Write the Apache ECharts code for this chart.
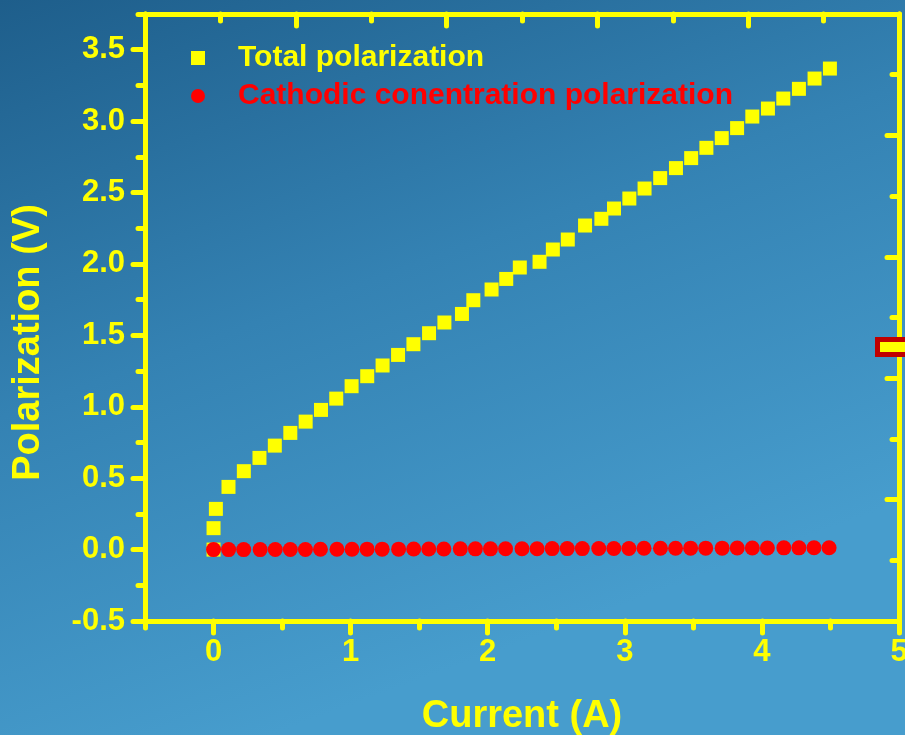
<!DOCTYPE html>
<html>
<head>
<meta charset="utf-8">
<script src="https://cdn.jsdelivr.net/npm/echarts@6/dist/echarts.min.js"></script>
<style>
html,body{margin:0;padding:0;background:#2b77a6;}
#chart{width:905px;height:735px;}
</style>
</head>
<body>
<div id="chart"></div>
<script>
// ---- data ----
var seriesNames = ['Total polarization', 'Cathodic conentration polarization'];

var totalX = [0, 0, 0.017, 0.109, 0.221, 0.335, 0.447, 0.56, 0.672, 0.784, 0.895, 1.007, 1.121, 1.233, 1.346, 1.458, 1.572, 1.684, 1.812, 1.895, 2.028, 2.135, 2.234, 2.378, 2.475, 2.584, 2.71, 2.829, 2.921, 3.033, 3.144, 3.258, 3.373, 3.484, 3.595, 3.707, 3.819, 3.93, 4.044, 4.156, 4.27, 4.384, 4.496];
var totalY = [0, 0.15, 0.285, 0.439, 0.549, 0.642, 0.728, 0.817, 0.896, 0.978, 1.057, 1.144, 1.214, 1.289, 1.363, 1.438, 1.515, 1.59, 1.65, 1.746, 1.821, 1.895, 1.975, 2.015, 2.101, 2.171, 2.269, 2.316, 2.388, 2.458, 2.528, 2.601, 2.671, 2.741, 2.813, 2.881, 2.951, 3.032, 3.088, 3.158, 3.226, 3.298, 3.368];

var cathodicX = [0, 0.11, 0.22, 0.34, 0.45, 0.56, 0.67, 0.78, 0.90, 1.01, 1.12, 1.23, 1.35, 1.46, 1.57, 1.68, 1.80, 1.91, 2.02, 2.13, 2.25, 2.36, 2.47, 2.58, 2.69, 2.81, 2.92, 3.03, 3.14, 3.26, 3.37, 3.48, 3.59, 3.71, 3.82, 3.93, 4.04, 4.16, 4.27, 4.38, 4.49];
var cathodicY = [0, 0, 0, 0, 0.001, 0.001, 0.001, 0.002, 0.002, 0.002, 0.003, 0.003, 0.003, 0.004, 0.004, 0.004, 0.005, 0.005, 0.005, 0.006, 0.006, 0.006, 0.007, 0.007, 0.007, 0.008, 0.008, 0.008, 0.009, 0.009, 0.009, 0.010, 0.010, 0.010, 0.011, 0.011, 0.011, 0.012, 0.012, 0.013, 0.013];

var xMajorTicks = [0, 1, 2, 3, 4, 5];
var xMinorTicks = [-0.5, 0.5, 1.5, 2.5, 3.5, 4.5];
var yMajorTicks = [-0.5, 0, 0.5, 1, 1.5, 2, 2.5, 3, 3.5];
var yMinorTicks = [-0.25, 0.25, 0.75, 1.25, 1.75, 2.25, 2.75, 3.25, 3.75];

var xName = 'Current (A)';
var yName = 'Polarization (V)';

function pairs(xs, ys) {
  var out = [];
  for (var i = 0; i < xs.length; i++) out.push([xs[i], ys[i]]);
  return out;
}

var YEL = '#ffff00';
var FONT = '"Liberation Sans", Arial, sans-serif';
var lineSt = {color: YEL, width: 5, cap: 'round'};

var chart = echarts.init(document.getElementById('chart'));
var option = {
  animation: false,
  backgroundColor: {
    type: 'linear', x: 0, y: 0, x2: 0.3, y2: 1,
    colorStops: [
      {offset: 0, color: '#1e5e8b'},
      {offset: 0.5, color: '#3482b3'},
      {offset: 1, color: '#479dcd'}
    ]
  },
  grid: {left: 145, right: 6, top: 14, bottom: 114, outerBoundsMode: 'none', containLabel: false},
  legend: {
    orient: 'vertical',
    left: 186,
    top: 38,
    itemWidth: 14,
    itemHeight: 14,
    itemGap: 8,
    textStyle: {fontFamily: FONT, fontWeight: 'bold', fontSize: 30, padding: [0, 0, 0, 28]},
    data: [
      {name: seriesNames[0], textStyle: {color: YEL}},
      {name: seriesNames[1], textStyle: {color: '#ff0000'}}
    ]
  },
  xAxis: [
    {
      type: 'value', position: 'bottom', min: -0.5, max: 5,
      name: xName, nameLocation: 'middle', nameGap: 77,
      nameTextStyle: {color: YEL, fontFamily: FONT, fontWeight: 'bold', fontSize: 38},
      axisLine: {show: true, onZero: false, lineStyle: lineSt},
      axisTick: {show: true, inside: false, length: 12, customValues: xMajorTicks, lineStyle: lineSt},
      axisLabel: {show: true, customValues: xMajorTicks, margin: 16, color: YEL, fontFamily: FONT, fontWeight: 'bold', fontSize: 31},
      splitLine: {show: false}
    },
    {
      type: 'value', position: 'bottom', min: -0.5, max: 5,
      axisLine: {show: false, onZero: false},
      axisTick: {show: true, inside: false, length: 7, customValues: xMinorTicks, lineStyle: lineSt},
      axisLabel: {show: false},
      splitLine: {show: false}
    },
    {
      type: 'value', position: 'top', min: 0, max: 5, interval: 1,
      axisLine: {show: true, onZero: false, lineStyle: lineSt},
      axisTick: {show: true, inside: true, length: 12, lineStyle: lineSt},
      minorTick: {show: true, splitNumber: 2, length: 7, lineStyle: lineSt},
      axisLabel: {show: false},
      splitLine: {show: false}
    }
  ],
  yAxis: [
    {
      type: 'value', position: 'left', min: -0.5, max: 3.75,
      name: yName, nameLocation: 'middle', nameGap: 97, nameRotate: 90,
      nameTextStyle: {color: YEL, fontFamily: FONT, fontWeight: 'bold', fontSize: 38, padding: [0, 50, 0, 0]},
      axisLine: {show: true, onZero: false, lineStyle: lineSt},
      axisTick: {show: true, inside: false, length: 12, customValues: yMajorTicks, lineStyle: lineSt},
      axisLabel: {
        show: true, customValues: yMajorTicks, margin: 20, color: YEL,
        fontFamily: FONT, fontWeight: 'bold', fontSize: 31,
        formatter: function (v) { return Number(v).toFixed(1); }
      },
      splitLine: {show: false}
    },
    {
      type: 'value', position: 'left', min: -0.5, max: 3.75,
      axisLine: {show: false, onZero: false},
      axisTick: {show: true, inside: false, length: 7, customValues: yMinorTicks, lineStyle: lineSt},
      axisLabel: {show: false},
      splitLine: {show: false}
    },
    {
      type: 'value', position: 'right', min: 0, max: 5, interval: 1,
      axisLine: {show: true, onZero: false, lineStyle: lineSt},
      axisTick: {show: true, inside: true, length: 12, lineStyle: lineSt},
      minorTick: {show: true, splitNumber: 2, length: 7, lineStyle: lineSt},
      axisLabel: {show: false},
      splitLine: {show: false}
    }
  ],
  graphic: [
    {
      type: 'rect', z: 100,
      shape: {x: 877.5, y: 339.5, width: 40, height: 15},
      style: {fill: YEL, stroke: '#c00000', lineWidth: 5}
    }
  ],
  series: [
    {
      name: seriesNames[0], type: 'scatter', xAxisIndex: 0, yAxisIndex: 0,
      symbol: 'rect', symbolSize: 14,
      itemStyle: {color: YEL, opacity: 1},
      data: pairs(totalX, totalY)
    },
    {
      name: seriesNames[1], type: 'scatter', xAxisIndex: 0, yAxisIndex: 0,
      symbol: 'circle', symbolSize: 15,
      itemStyle: {color: '#ff0000', opacity: 1},
      data: pairs(cathodicX, cathodicY)
    }
  ]
};
chart.setOption(option);
</script>
</body>
</html>
